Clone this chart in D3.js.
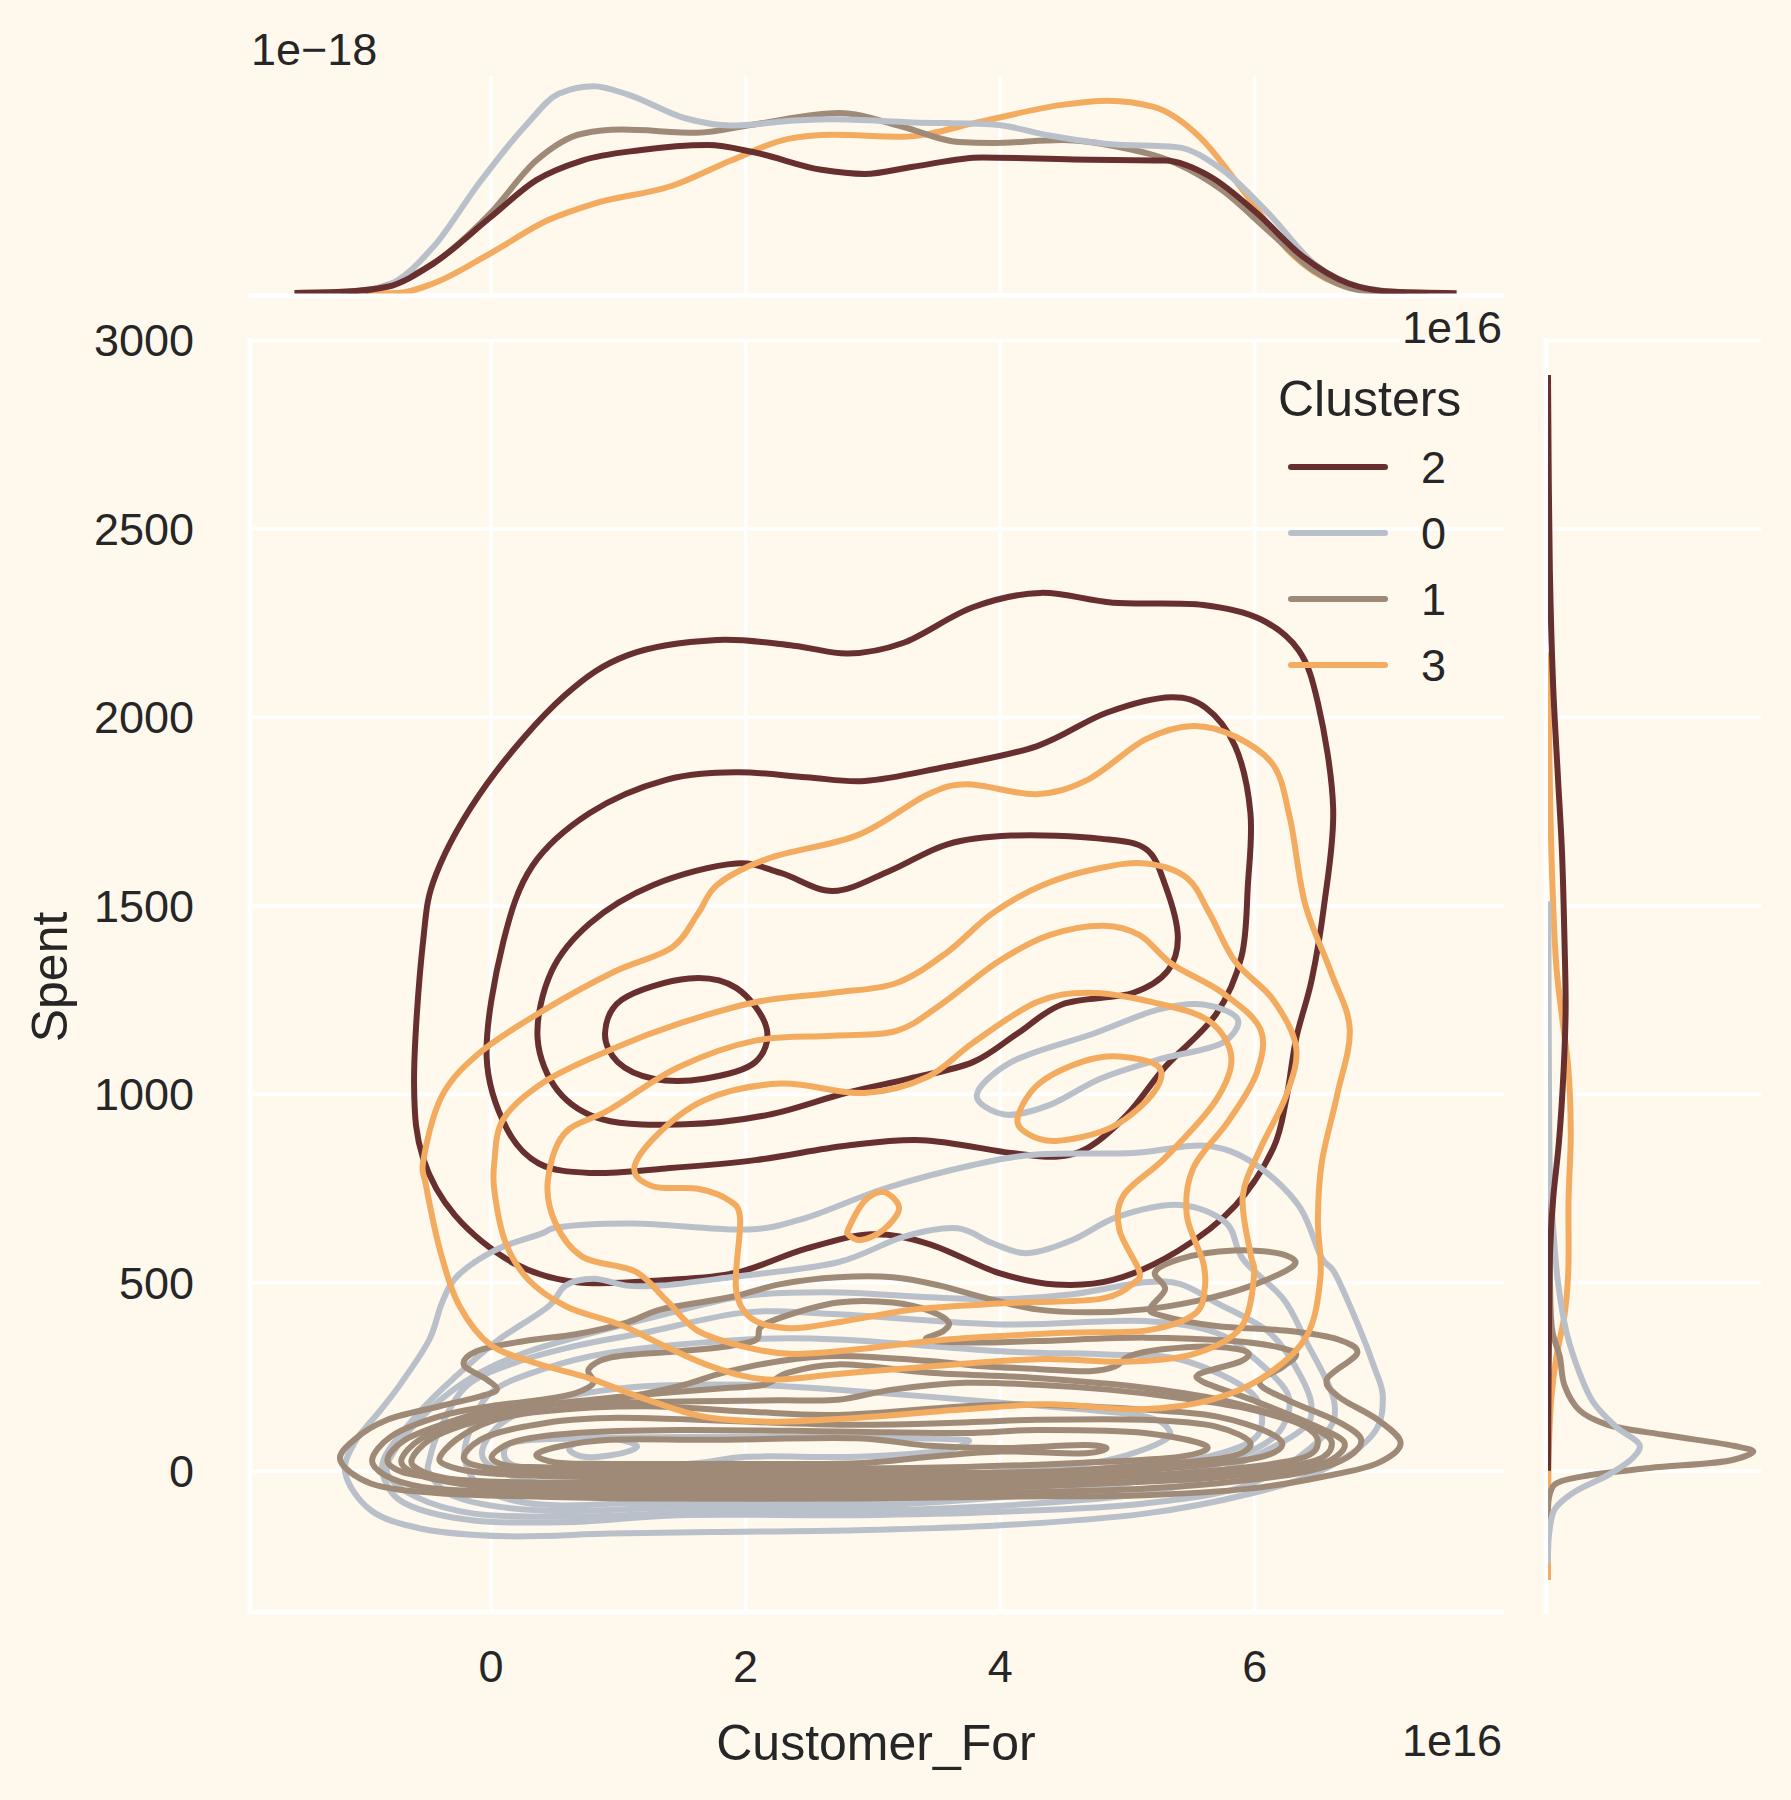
<!DOCTYPE html>
<meta charset="utf-8">
<style>

body {
  margin: 0;
  background: #FFF9ED;
}

text {
  font-family: "Liberation Sans", Arial, sans-serif;
  fill: #262626;
}

.tick text {
  font-size: 45px;
}

.grid line {
  stroke: #fff;
  stroke-width: 3.6px;
}

.grid .domain {
  display: none;
}

.spine {
  stroke: #fff;
  stroke-width: 5px;
}

.label {
  font-size: 50px;
}

.offset {
  font-size: 45px;
}

.contour, .kde {
  fill: none;
  stroke-width: 6px;
}

</style>

<svg width="1791" height="1800"></svg>
<script src="https://d3js.org/d3.v7.min.js"></script>
<script>

// hue order of the legend, which is also the draw order
var clusters = ["2", "0", "1", "3"];
var colors = ["#682F2F", "#B9C0C9", "#9F8A78", "#F3AB60"];

var xTicks = [0, 2, 4, 6];
var yTicks = [0, 500, 1000, 1500, 2000, 2500, 3000];

// contours of the joint kde, [Customer_For / 1e16, Spent]
var contours2 = [
  [[-.60,1021],[-.53,1402],[-.43,1580],[-.03,1821],[.58,2056],[1.08,2164],[1.78,2204],[2.38,2189],[2.81,2168],[3.24,2196],[3.79,2291],[4.32,2329],[4.89,2303],[5.60,2297],[6.05,2259],[6.35,2176],[6.50,2037],[6.62,1757],[6.55,1503],[6.45,1300],[6.33,1148],[6.25,983],[6.15,856],[5.85,703],[5.40,583],[4.89,506],[4.44,494],[3.99,525],[3.44,602],[2.99,627],[2.48,589],[1.93,525],[1.38,506],[.68,500],[.18,551],[-.28,678],[-.53,830]],
  [[-.03,1097],[.10,1402],[.33,1605],[.78,1745],[1.38,1833],[1.93,1853],[2.48,1840],[2.94,1830],[3.54,1865],[4.29,1922],[4.84,2011],[5.35,2052],[5.62,2024],[5.85,1922],[5.97,1745],[5.95,1554],[5.90,1364],[5.70,1211],[5.30,1071],[5.00,944],[4.69,856],[4.44,833],[4.09,843],[3.39,877],[2.79,862],[2.08,824],[1.38,802],[.78,790],[.38,815],[.13,906]],
  [[.37,1148],[.48,1325],[.78,1452],[1.28,1554],[1.93,1611],[2.28,1586],[2.69,1538],[3.14,1592],[3.59,1662],[4.09,1685],[4.79,1677],[5.15,1649],[5.30,1554],[5.40,1414],[5.32,1326],[5.05,1268],[4.49,1237],[4.14,1160],[3.79,1084],[3.29,1040],[2.79,1002],[2.18,944],[1.53,919],[.88,932],[.53,1008]],
  [[.90,1160],[1.03,1249],[1.56,1306],[1.93,1281],[2.17,1173],[2.08,1084],[1.68,1040],[1.28,1040],[1.0,1084]]
];

var contours0 = [
  [[-1.14,-7],[-1.07,73],[-.86,162],[-.70,233],[-.48,348],[-.38,446],[-.27,513],[.03,584],[.40,629],[.53,646],[1.13,656],[2.03,640],[2.48,671],[3.09,748],[3.79,811],[4.29,839],[5.05,843],[5.62,862],[5.99,817],[6.35,703],[6.53,564],[6.63,526],[6.83,375],[6.94,277],[7.01,197],[6.94,100],[6.54,2],[5.98,-60],[5.14,-114],[4.01,-145],[2.88,-158],[1.74,-163],[.94,-167],[.13,-174],[-.54,-154],[-.94,-105]],
  [[-.83,-25],[-.83,37],[-.54,162],[-.27,251],[.05,344],[.46,437],[.59,491],[.81,509],[1.07,491],[1.34,491],[1.88,513],[2.73,553],[3.25,621],[3.67,643],[3.94,604],[4.21,577],[4.57,612],[4.93,674],[5.42,705],[5.78,657],[5.91,562],[6.23,455],[6.40,348],[6.63,180],[6.54,91],[5.98,-34],[5.14,-87],[4.01,-109],[2.88,-118],[1.48,-118],[.67,-136],[-.13,-132],[-.67,-87]],
  [[-.81,-7],[-.75,55],[-.48,162],[-.13,251],[.27,313],[.81,366],[1.32,411],[2.01,464],[2.73,473],[3.45,460],[4.01,455],[4.57,468],[5.14,500],[5.42,495],[5.70,446],[6.12,366],[6.35,260],[6.45,171],[6.37,108],[5.70,-7],[5.14,-60],[4.01,-93],[2.88,-107],[1.74,-109],[.67,-122],[-.13,-114],[-.59,-69]],
  [[-.48,-7],[-.48,28],[-.40,108],[-.19,224],[.19,286],[.67,331],[1.21,366],[2.01,420],[2.73,415],[4.01,388],[5.14,397],[5.70,366],[5.98,304],[6.26,206],[6.25,135],[6.09,73],[5.56,2],[4.57,-52],[2.88,-95],[1.48,-98],[.40,-106],[-.27,-70]],
  [[-.20,28],[-.16,108],[0,206],[.40,268],[.94,313],[2.01,348],[2.73,348],[4.01,317],[4.85,308],[5.42,295],[5.98,206],[6.06,126],[5.95,73],[5.42,20],[4.57,-34],[2.88,-84],[1.21,-86],[.40,-90],[-.05,-50]],
  [[-.05,28],[.03,108],[.40,180],[.75,206],[1.21,224],[2.01,228],[2.73,215],[4.01,180],[5.14,144],[5.33,108],[5.30,82],[4.85,28],[4.01,-3],[2.88,-25],[1.21,-43],[.40,-34]],
  [[.11,37],[.16,73],[.67,86],[1.48,89],[2.73,89],[3.73,82],[3.74,75],[3.59,55],[2.88,37],[2.01,37],[1.61,20],[.67,2],[.21,11]],
  [[.62,55],[.75,36],[1.05,48],[1.15,66],[.94,86],[.67,73]],
  [[3.82,995],[4.09,1084],[4.74,1160],[5.25,1224],[5.60,1237],[5.87,1198],[5.75,1135],[5.25,1091],[4.79,1040],[4.39,970],[4.04,945]]
];

var contours1 = [
  [[-1.18,28],[-1.07,82],[-.81,135],[-.40,171],[-.08,197],[.05,215],[-.03,242],[-.21,282],[-.11,317],[.27,344],[.67,362],[1.07,393],[1.34,428],[1.88,460],[2.28,495],[2.73,513],[3.16,513],[3.53,491],[3.87,460],[4.29,428],[4.71,420],[5.14,428],[5.56,451],[5.98,491],[6.32,548],[6.21,575],[5.84,584],[5.42,562],[5.22,526],[5.30,482],[5.18,428],[5.28,411],[5.70,384],[6.26,371],[6.66,348],[6.81,313],[6.57,242],[6.66,197],[6.97,135],[7.15,73],[6.97,20],[6.54,-16],[5.98,-47],[5.14,-65],[4.01,-69],[2.88,-74],[1.21,-74],[.40,-69],[-.40,-60],[-.94,-34]],
  [[-.93,28],[-.78,91],[-.40,144],[0,171],[.40,188],[.67,206],[.81,233],[.77,268],[.94,300],[1.48,317],[1.88,331],[2.09,348],[2.12,380],[2.28,406],[2.73,446],[3.16,446],[3.45,424],[3.60,393],[3.56,371],[3.42,348],[3.73,340],[4.29,344],[5.14,353],[5.84,344],[6.21,326],[6.33,308],[6.23,277],[6.04,233],[6.26,188],[6.68,126],[6.84,82],[6.74,37],[6.40,-3],[5.70,-34],[4.85,-52],[3.73,-60],[2.88,-64],[1.21,-64],[.13,-58],[-.54,-43],[-.83,-12]],
  [[-.81,28],[-.67,82],[-.27,135],[.13,171],[.54,180],[1.21,202],[1.88,220],[2.15,228],[2.34,260],[2.73,282],[3.45,260],[4.29,246],[5.14,220],[5.84,180],[6.40,117],[6.50,73],[6.37,33],[5.56,-3],[4.29,-25],[2.88,-30],[1.21,-32],[.13,-30],[-.40,-20],[-.70,-3]],
  [[-.70,28],[-.54,86],[-.13,140],[.40,175],[.94,180],[1.61,184],[2.28,187],[2.73,188],[3.16,215],[3.73,233],[4.29,228],[4.85,215],[5.42,193],[5.98,162],[6.49,108],[6.61,73],[6.49,28],[5.70,-12],[4.57,-38],[2.88,-52],[1.21,-54],[.13,-47],[-.35,-29],[-.62,-3]],
  [[-.62,28],[-.46,86],[-.08,135],[.40,171],[.94,188],[1.48,224],[1.83,260],[2.28,291],[2.73,304],[3.45,291],[3.87,277],[4.29,270],[4.71,264],[4.91,277],[5.02,304],[5.28,322],[5.70,329],[5.95,313],[5.90,291],[5.56,255],[5.59,237],[5.98,188],[6.49,117],[6.71,73],[6.60,28],[6.26,2],[5.42,-25],[4.29,-36],[2.88,-42],[1.21,-43],[.13,-36],[-.35,-20],[-.56,2]],
  [[-.40,33],[-.27,82],[0,131],[.40,157],[1.21,171],[2.01,157],[2.73,148],[4.01,175],[5.14,162],[5.70,144],[6.12,100],[6.22,68],[6.06,37],[5.42,9],[4.29,-14],[2.88,-18],[1.21,-18],[.40,-14],[-.13,-3],[-.35,15]],
  [[-.21,33],[-.08,82],[.27,117],[.94,140],[2.73,122],[3.73,128],[4.29,135],[5.14,135],[5.70,117],[5.97,73],[5.81,37],[5.14,15],[4.29,-3],[2.88,-6],[1.21,-5],[.40,-3],[-.05,9]],
  [[.01,37],[.19,77],[.67,100],[1.48,108],[2.73,104],[3.73,100],[4.29,108],[5.14,100],[5.63,64],[5.42,37],[4.57,20],[3.73,10],[2.88,6],[1.21,8],[.40,9],[.11,15]],
  [[.36,42],[.54,64],[.94,82],[1.74,82],[2.88,86],[3.45,66],[4.01,60],[4.68,68],[4.84,60],[4.68,46],[4.01,51],[3.45,37],[2.88,20],[1.74,18],[.94,18],[.51,22]]
];

var contours3 = [
  [[-.53,817],[-.38,995],[-.08,1110],[.43,1224],[.98,1325],[1.43,1389],[1.63,1478],[1.78,1554],[2.18,1624],[2.89,1687],[3.44,1795],[3.74,1821],[4.29,1795],[4.69,1833],[5.15,1941],[5.52,1976],[5.85,1948],[6.15,1872],[6.28,1732],[6.40,1503],[6.60,1325],[6.75,1173],[6.65,995],[6.53,817],[6.50,665],[6.52,513],[6.41,356],[6.08,250],[5.66,188],[5.11,163],[4.39,176],[3.73,163],[2.83,139],[2.23,130],[1.68,143],[1.20,192],[.78,245],[.36,285],[0,334],[-.24,435],[-.39,577],[-.51,763]],
  [[.03,817],[.10,932],[.43,1033],[.98,1122],[1.48,1186],[2.08,1243],[2.69,1268],[3.19,1294],[3.59,1376],[3.94,1478],[4.34,1554],[4.79,1599],[5.15,1611],[5.47,1573],[5.65,1478],[5.85,1351],[6.15,1249],[6.33,1122],[6.25,995],[6.05,856],[5.91,729],[5.97,576],[6.0,524],[5.90,382],[5.54,311],[4.99,289],[4.33,296],[3.43,276],[2.77,258],[2.17,242],[1.74,276],[1.38,329],[1.02,387],[.60,435],[.30,506],[.12,604],[.03,745]],
  [[.45,767],[.58,894],[.93,957],[1.48,1071],[2.08,1141],[2.69,1154],[3.19,1167],[3.54,1237],[3.99,1351],[4.39,1421],[4.82,1446],[5.10,1421],[5.35,1345],[5.75,1268],[6.05,1170],[6.02,1056],[5.80,929],[5.52,802],[5.47,678],[5.60,551],[5.61,480],[5.54,418],[5.17,373],[4.51,366],[3.55,347],[2.83,320],[2.35,310],[1.99,329],[1.62,373],[1.38,453],[1.14,528],[.72,568],[.51,657]],
  [[1.13,798],[1.28,881],[1.68,983],[2.28,1027],[2.94,1002],[3.44,1046],[3.79,1135],[4.29,1243],[4.69,1268],[5.20,1243],[5.65,1192],[5.82,1097],[5.70,983],[5.30,830],[4.97,729],[4.94,640],[5.10,525],[5.05,497],[4.81,457],[4.03,444],[3.31,427],[2.77,396],[2.35,378],[2.05,404],[1.93,480],[1.96,674],[1.88,716],[1.63,748],[1.28,754]],
  [[4.14,932],[4.29,1021],[4.64,1084],[4.94,1099],[5.25,1071],[5.22,1008],[4.89,913],[4.44,875],[4.22,894]],
  [[2.81,640],[2.94,716],[3.09,739],[3.21,697],[3.09,640],[2.91,612],[2.81,627]]
];

// marginal kde over Customer_For, [x / 1e16, density / 1e-18]
var topKde2 = [[-1.54,.06],[-1.17,.16],[-.81,.65],[-.45,2.9],[0,7.4],[.36,11],[.72,12.9],[1.17,13.9],[1.71,14.4],[2.07,13.7],[2.60,12],[2.94,11.6],[3.32,12.3],[3.86,13.2],[4.58,13],[5.30,12.9],[5.66,11.3],[6.02,7.8],[6.38,3.6],[6.74,.97],[7.10,.16],[7.59,.03]];
var topKde0 = [[-1.17,.1],[-.81,.8],[-.45,4.5],[-.09,10.7],[.27,16.2],[.54,19.4],[.81,20.1],[1.08,19.3],[1.53,17],[1.89,16.3],[2.43,16.8],[2.69,16.9],[3.32,16.6],[3.95,16.4],[4.40,15.3],[4.85,14.5],[5.39,14.2],[5.75,12],[6.11,7.8],[6.47,2.9],[6.83,.65],[7.19,.1]];
var topKde1 = [[-.99,.16],[-.45,2.9],[0,7.8],[.36,12.9],[.72,15.5],[1.03,15.9],[1.62,15.6],[2.07,16.4],[2.74,17.5],[3.23,16.2],[3.68,14.7],[3.95,14.6],[4.49,14.9],[4.94,14.2],[5.39,12.6],[5.75,10],[6.11,6.1],[6.47,2.2],[6.83,.32],[7.19,.06]];
var topKde3 = [[-1.1,.01],[-.72,.06],[-.45,.97],[0,3.9],[.45,7.1],[.81,8.7],[1.44,10.5],[1.89,12.9],[2.34,15],[2.69,15.4],[3.23,15.2],[3.86,16.7],[4.49,18.3],[4.85,18.7],[5.21,18.1],[5.57,15.2],[5.93,9.7],[6.29,3.9],[6.65,.97],[7.0,.16],[7.37,.03]];

// marginal kde over Spent, [spent, density / 1e-3]
var rightKde2 = [[2907,0],[2390,.05],[2083,.14],[1841,.27],[1643,.38],[1402,.45],[1226,.48],[1072,.43],[874,.30],[721,.14],[589,.06],[413,.03],[0,0]];
var rightKde0 = [[1511,.01],[962,.03],[765,.06],[633,.15],[501,.27],[369,.5],[259,.86],[182,1.23],[116,1.86],[66,2.5],[35,2.32],[-9,1.68],[-59,.68],[-103,.18],[-169,.03],[-246,0]];
var rightKde1 = [[962,0],[523,.05],[369,.12],[303,.32],[226,.45],[160,.86],[123,1.59],[94,3.23],[66,5.05],[51,5.59],[29,5.05],[7,2.77],[-15,.95],[-37,.18],[-70,.03],[-136,0]];
var rightKde3 = [[2171,0],[1819,.05],[1555,.12],[1336,.23],[1182,.41],[1072,.55],[896,.62],[721,.56],[523,.55],[413,.45],[303,.23],[193,.09],[40,.02],[-290,0]];

var svg = d3.select("svg");

svg.append("rect").attr("width", 1791).attr("height", 1800).attr("fill", "#FFF9ED");

var left = 250, right = 1504, top_ = 340, bottom = 1612;
var margTop = 76, margBase = 293.5;
var margLeft = 1548, margRight = 1761;

var x = d3.scaleLinear().domain([-1.889, 7.962]).range([left, right]);
var y = d3.scaleLinear().domain([-375, 3000]).range([bottom, top_]);
var topY = d3.scaleLinear().domain([0, 21.1]).range([margBase, margTop]);
var rightX = d3.scaleLinear().domain([0, 5.8]).range([margLeft, margRight]);

// gridlines, through the axes so that the labels come with them
svg.append("g").attr("class", "grid")
  .attr("transform", "translate(0," + bottom + ")")
  .call(d3.axisBottom(x).tickValues(xTicks).tickSize(top_ - bottom).tickPadding(0).tickFormat(""));
svg.append("g").attr("class", "grid")
  .attr("transform", "translate(" + left + ",0)")
  .call(d3.axisLeft(y).tickValues(yTicks).tickSize(left - right).tickFormat(""));
svg.append("g").attr("class", "grid")
  .attr("transform", "translate(0," + margBase + ")")
  .call(d3.axisBottom(x).tickValues(xTicks).tickSize(margTop - margBase).tickFormat(""));
svg.append("g").attr("class", "grid")
  .attr("transform", "translate(" + margLeft + ",0)")
  .call(d3.axisLeft(y).tickValues(yTicks).tickSize(margLeft - margRight).tickFormat(""));

// tick labels
var xAxis = svg.append("g")
  .attr("transform", "translate(0," + bottom + ")")
  .call(d3.axisBottom(x).tickValues(xTicks).tickSize(0).tickPadding(38).tickFormat(d3.format("d")));
xAxis.select(".domain").remove();
var yAxis = svg.append("g")
  .attr("transform", "translate(" + left + ",1.5)")
  .call(d3.axisLeft(y).tickValues(yTicks).tickSize(0).tickPadding(56).tickFormat(d3.format("d")));
yAxis.select(".domain").remove();

// spines
svg.append("line").attr("class", "spine").attr("x1", left).attr("x2", left).attr("y1", top_ - 2).attr("y2", bottom + 2);
svg.append("line").attr("class", "spine").attr("x1", left - 2).attr("x2", right).attr("y1", bottom).attr("y2", bottom);
svg.append("line").attr("class", "spine").attr("x1", left - 2).attr("x2", right).attr("y1", margBase + 2).attr("y2", margBase + 2);
svg.append("line").attr("class", "spine").attr("x1", margLeft - 2).attr("x2", margLeft - 2).attr("y1", top_ - 2).attr("y2", bottom + 2);

// the marginals are clipped at their axes edge, which thins the tails
var defs = svg.append("defs");
defs.append("clipPath").attr("id", "clipTop").append("rect")
  .attr("x", left).attr("y", 0).attr("width", right - left).attr("height", margBase);
defs.append("clipPath").attr("id", "clipRight").append("rect")
  .attr("x", margLeft).attr("y", top_).attr("width", margRight - margLeft).attr("height", bottom - top_);

var contourLine = d3.line()
  .x(function(d) { return x(d[0]); })
  .y(function(d) { return y(d[1]); })
  .curve(d3.curveCatmullRomClosed.alpha(0.2));

[contours2, contours0, contours1, contours3].forEach(function(levels, i) {
  svg.append("g").selectAll("path")
    .data(levels)
    .enter().append("path")
    .attr("class", "contour")
    .attr("stroke", colors[i])
    .attr("d", contourLine);
});

var topLine = d3.line()
  .x(function(d) { return x(d[0]); })
  .y(function(d) { return topY(d[1]); })
  .curve(d3.curveMonotoneX);

var rightLine = d3.line()
  .x(function(d) { return rightX(d[1]); })
  .y(function(d) { return y(d[0]); })
  .curve(d3.curveCatmullRom.alpha(0.5));

var topG = svg.append("g").attr("clip-path", "url(#clipTop)");
var rightG = svg.append("g").attr("clip-path", "url(#clipRight)");

// orange first, dark last, as the marginals overlap in the picture
[[topKde3, 3], [topKde1, 2], [topKde0, 1], [topKde2, 0]].forEach(function(k) {
  topG.append("path").attr("class", "kde").attr("stroke", colors[k[1]]).attr("d", topLine(k[0]));
});
[rightKde3, rightKde1, rightKde0, rightKde2].forEach(function(k, i) {
  rightG.append("path").attr("class", "kde").attr("stroke", colors[[3, 2, 1, 0][i]]).attr("d", rightLine(k));
});

// labels and offset texts
svg.append("text").attr("class", "label").attr("x", 876).attr("y", 1743)
  .attr("text-anchor", "middle").attr("dominant-baseline", "central").text("Customer_For");
svg.append("text").attr("class", "label")
  .attr("transform", "translate(50,977) rotate(-90)")
  .attr("text-anchor", "middle").attr("dominant-baseline", "central").text("Spent");
svg.append("text").attr("class", "offset").attr("x", 1502).attr("y", 1740)
  .attr("text-anchor", "end").attr("dominant-baseline", "central").text("1e16");
svg.append("text").attr("class", "offset").attr("x", 1502).attr("y", 327)
  .attr("text-anchor", "end").attr("dominant-baseline", "central").text("1e16");
svg.append("text").attr("class", "offset").attr("x", 251).attr("y", 49)
  .attr("dominant-baseline", "central").text("1e\u221218");

// legend
svg.append("text").attr("class", "label").attr("x", 1278).attr("y", 399)
  .attr("dominant-baseline", "central").text("Clusters");
var legendY = d3.scalePoint().domain(clusters).range([467, 665]);
var legend = svg.append("g").selectAll("g")
  .data(clusters)
  .enter().append("g")
  .attr("transform", function(d) { return "translate(0," + legendY(d) + ")"; });
legend.append("line")
  .attr("x1", 1291).attr("x2", 1385)
  .attr("stroke", function(d, i) { return colors[i]; })
  .attr("stroke-width", 6)
  .attr("stroke-linecap", "round");
legend.append("text")
  .attr("class", "offset")
  .attr("x", 1421)
  .attr("dominant-baseline", "central")
  .text(function(d) { return d; });

</script>
